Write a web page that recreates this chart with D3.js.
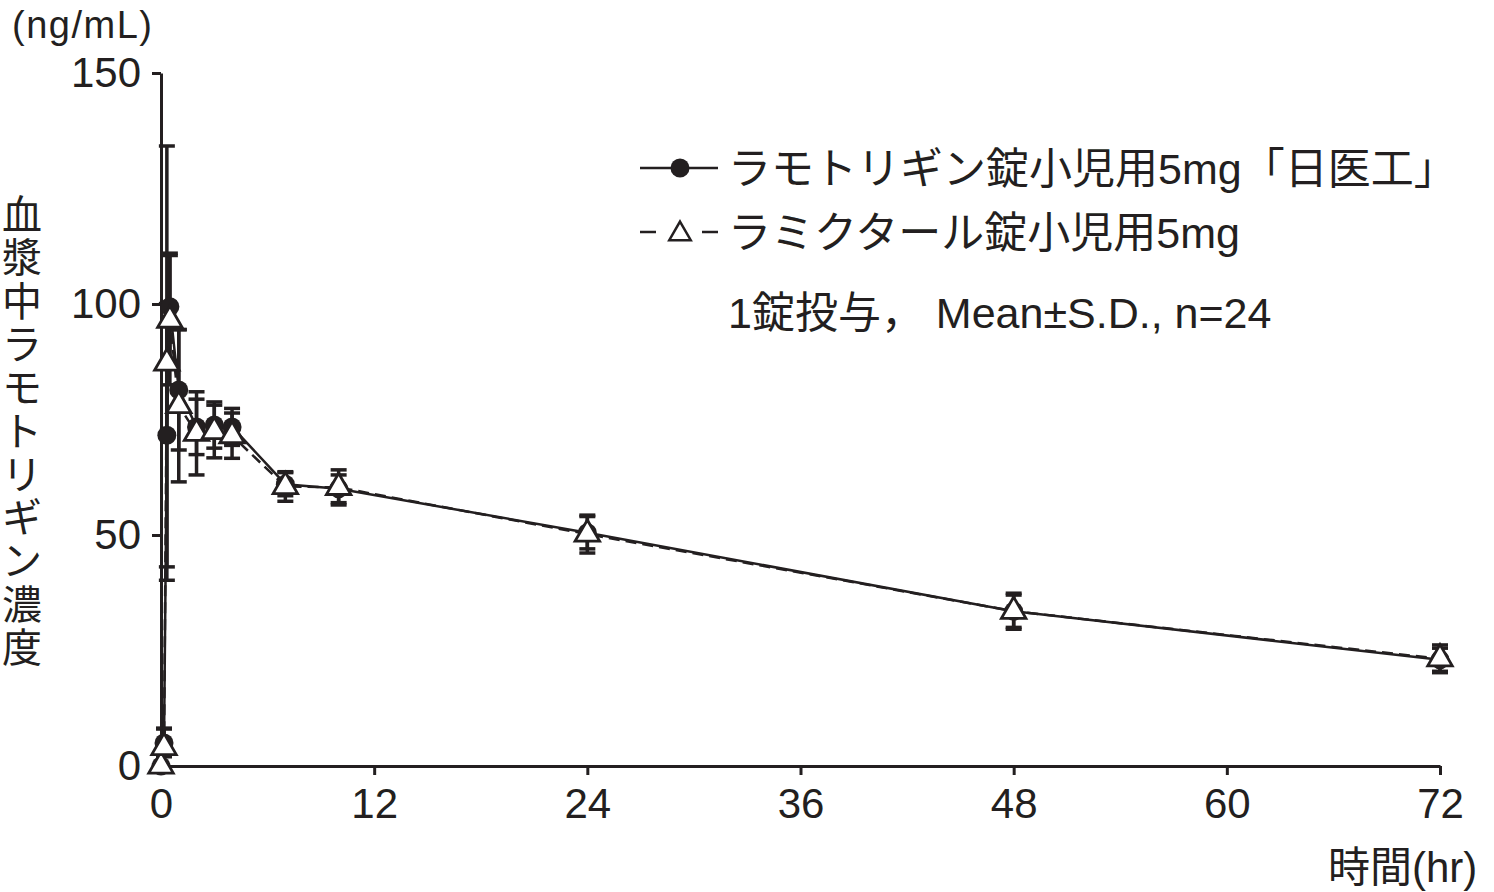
<!DOCTYPE html>
<html><head><meta charset="utf-8">
<script src="https://cdn.jsdelivr.net/npm/d3@7"></script>
<style>
body{margin:0;background:#fff}
svg text{font-family:"Liberation Sans","Noto Sans CJK JP",sans-serif;fill:#231f20}
</style>
</head><body><svg id="c" width="1494" height="892"></svg>
<script>
// ---- data ----
const times = [0, 0.17, 0.33, 0.5, 1, 2, 3, 4, 7, 10, 24, 48, 72];
const nichiikoMean = [0, 5, 71.6, 99.4, 81.4, 73.4, 73.8, 73.4, 61, 60, 50.5, 33.5, 23];
const nichiikoSD   = [0, 3, 28.5, 11.6, 13, 6, 5, 4, 2.5, 3, 3.5, 3.5, 2.5];
const lamictalMean = [0, 4, 87.2, 96.5, 78, 72, 72.4, 71.5, 60.5, 60.3, 50.2, 33.5, 23.2];
const lamictalSD   = [0, 4.2, 47, 14, 16.5, 9, 5.7, 4.9, 3.2, 3.8, 4.1, 3.9, 3];
const xTicks = [0, 12, 24, 36, 48, 60, 72];
const yTicks = [0, 50, 100, 150];
const seriesNames = ["ラモトリギン錠小児用5mg「日医工」", "ラミクタール錠小児用5mg"];
const noteText = "1錠投与， Mean±S.D., n=24";
const yAxisTitle = "血漿中ラモトリギン濃度";
const yUnit = "(ng/mL)";
const xAxisTitle = "時間(hr)";

// ---- chart ----
const ink = "#231f20";
const svg = d3.select("#c");
const x = d3.scaleLinear().domain([0, 72]).range([161, 1440]);
const y = d3.scaleLinear().domain([0, 150]).range([766, 73]);

function rows(mean, sd){ return times.map((t,i)=>({t, m:mean[i], s:sd[i]})); }
const s1 = rows(nichiikoMean, nichiikoSD);
const s2 = rows(lamictalMean, lamictalSD);

// axes
const xa = svg.append("g").attr("transform","translate(0,766)")
  .call(d3.axisBottom(x).tickValues(xTicks).tickSize(9).tickSizeOuter(0).tickPadding(13));
const ya = svg.append("g").attr("transform","translate(161,0)")
  .call(d3.axisLeft(y).tickValues(yTicks).tickSize(9).tickSizeOuter(0).tickPadding(11));
[xa, ya].forEach(g=>{
  g.attr("font-family", null).attr("font-size", null);
  g.selectAll("path,line").attr("stroke", ink).attr("stroke-width", 3);
  g.selectAll("text").attr("font-size", 42).style("fill", ink);
});

// error bars
function errBars(data){
  const g = svg.append("g").attr("stroke", ink).attr("stroke-width", 3.5);
  data.filter(d=>d.s>0).forEach(d=>{
    const cx = x(d.t);
    g.append("line").attr("x1",cx).attr("x2",cx).attr("y1",y(d.m-d.s)).attr("y2",y(d.m+d.s));
    [d.m-d.s, d.m+d.s].forEach(v=>{
      g.append("line").attr("x1",cx-8).attr("x2",cx+8).attr("y1",y(v)).attr("y2",y(v));
    });
  });
}
errBars(s1); errBars(s2);

const line = d3.line().x(d=>x(d.t)).y(d=>y(d.m));
svg.append("path").datum(s1).attr("d", line).attr("fill","none")
  .attr("stroke", ink).attr("stroke-width", 2.5);
svg.append("path").datum(s2).attr("d", line).attr("fill","none")
  .attr("stroke", ink).attr("stroke-width", 2.5).attr("stroke-dasharray","11,6");

const tri = d3.symbol().type(d3.symbolTriangle).size(260);
svg.append("g").selectAll("circle").data(s1).join("circle")
  .attr("cx", d=>x(d.t)).attr("cy", d=>y(d.m)).attr("r", 9.5).attr("fill", ink);
svg.append("g").selectAll("path").data(s2).join("path")
  .attr("d", tri).attr("transform", d=>`translate(${x(d.t)},${y(d.m)})`)
  .attr("fill", "#fff").attr("stroke", ink).attr("stroke-width", 2.8);

// legend
const lg = svg.append("g");
lg.append("line").attr("x1",640).attr("x2",718).attr("y1",168).attr("y2",168)
  .attr("stroke",ink).attr("stroke-width",2.5);
lg.append("circle").attr("cx",680).attr("cy",168).attr("r",9.5).attr("fill",ink);
lg.append("text").attr("x",728).attr("y",184).attr("font-size",43).text(seriesNames[0]);
lg.append("line").attr("x1",640).attr("x2",718).attr("y1",232).attr("y2",232)
  .attr("stroke",ink).attr("stroke-width",2.5).attr("stroke-dasharray","16,46");
lg.append("path").attr("d",d3.symbol().type(d3.symbolTriangle).size(200)).attr("transform","translate(680,234)")
  .attr("fill","#fff").attr("stroke",ink).attr("stroke-width",2.5);
lg.append("text").attr("x",728).attr("y",248).attr("font-size",43).text(seriesNames[1]);
lg.append("text").attr("x",728).attr("y",328).attr("font-size",43).attr("xml:space","preserve")
  .style("white-space","pre").text(noteText);

// titles
svg.append("text").attr("x",12).attr("y",38).attr("font-size",38)
  .attr("letter-spacing",1.5).text(yUnit);
svg.append("text").attr("x",1328).attr("y",882).attr("font-size",42).text(xAxisTitle);
svg.append("g").selectAll("text").data(Array.from(yAxisTitle)).join("text")
  .attr("x",22).attr("y",(d,i)=>215+i*43.3).attr("text-anchor","middle")
  .attr("dominant-baseline","central").attr("font-size",40).text(d=>d);
</script></body></html>
